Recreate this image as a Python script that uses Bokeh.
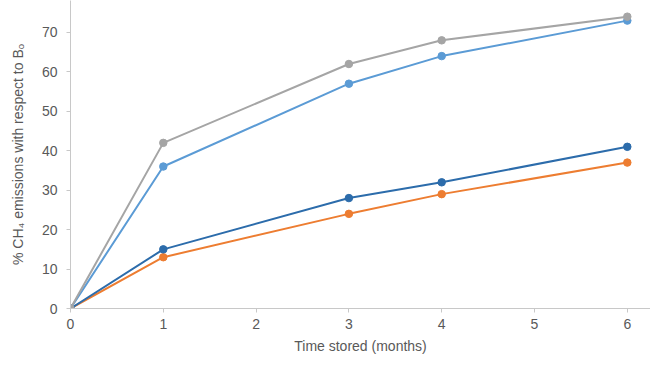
from bokeh.plotting import figure
from bokeh.embed import file_html
from bokeh.resources import INLINE
from bokeh.models import Range1d, FixedTicker

months = [0, 1, 3, 4, 6]
series_darkblue = [0, 15, 28, 32, 41]
series_orange = [0, 13, 24, 29, 37]
series_lightblue = [0, 36, 57, 64, 73]
series_gray = [0, 42, 62, 68, 74]
x_ticks = [0, 1, 2, 3, 4, 5, 6]
y_ticks = [0, 10, 20, 30, 40, 50, 60, 70]

p = figure(width=650, height=366, output_backend="svg", toolbar_location=None,
           x_range=Range1d(0, 6.25), y_range=Range1d(0, 78.1),
           min_border_left=70, min_border_right=0, min_border_top=0, min_border_bottom=58)
p.outline_line_color = None
p.xgrid.grid_line_color = None
p.ygrid.grid_line_color = None

for ys, col in [(series_orange, "#ED7D31"), (series_darkblue, "#2C6CAB"),
                (series_lightblue, "#5B9BD5"), (series_gray, "#A5A5A5")]:
    p.line(months, ys, line_color=col, line_width=2)
    p.scatter(months, ys, size=7.5, fill_color=col, line_color=col)

for ax in (p.xaxis[0], p.yaxis[0]):
    ax.axis_line_color = "#C8C8C8"
    ax.major_tick_line_color = "#C8C8C8"
    ax.minor_tick_line_color = None
    ax.major_tick_in = 0
    ax.major_tick_out = 4
    ax.major_label_text_font = "Liberation Sans"
    ax.major_label_text_font_size = "14px"
    ax.major_label_text_color = "#595959"
    ax.axis_label_text_font = "Liberation Sans"
    ax.axis_label_text_font_size = "14px"
    ax.axis_label_text_color = "#595959"
    ax.axis_label_text_font_style = "normal"

p.xaxis[0].ticker = FixedTicker(ticks=x_ticks)
p.yaxis[0].ticker = FixedTicker(ticks=y_ticks)
p.xaxis[0].axis_label = "Time stored (months)"
p.xaxis[0].major_label_standoff = 6
p.xaxis[0].axis_label_standoff = 6
p.yaxis[0].major_label_standoff = 9
p.yaxis[0].axis_label = "% CH\u2084 emissions with respect to B\u2092"
p.yaxis[0].axis_label_standoff = 13

open("out.html", "w").write(file_html(p, INLINE))
